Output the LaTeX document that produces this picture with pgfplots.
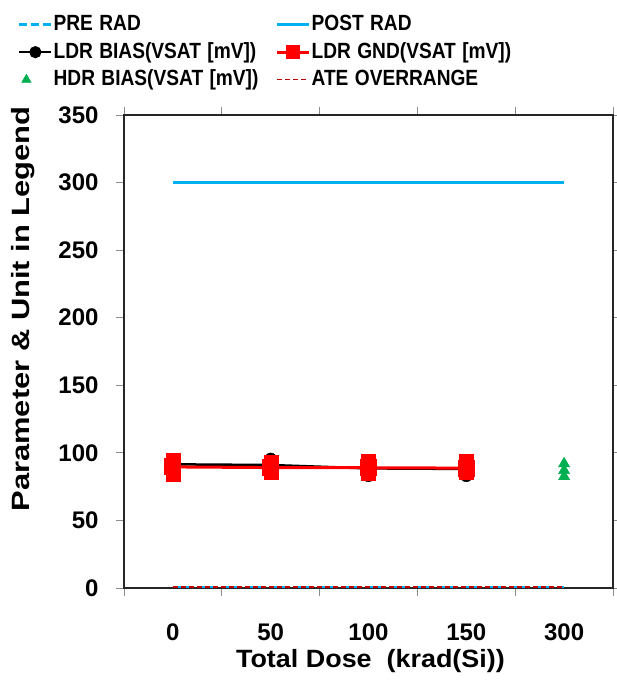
\documentclass[border=0pt]{standalone}
\usepackage{fontspec}
\setmainfont{Liberation Sans}
\usepackage{graphicx}
\usepackage{pgfplots}
\pgfplotsset{compat=1.18}
\definecolor{ltblue}{RGB}{0,176,240}
\definecolor{mygreen}{RGB}{0,176,80}
\definecolor{dkred}{RGB}{192,0,0}
\newcommand{\legtxt}[1]{\scalebox{0.87}[1]{#1}}
\pgfplotsset{
  legline/.style={legend image code/.code={\draw[mark repeat=2,mark phase=2,##1] plot coordinates {(0pt,0pt)(16pt,0pt)(32pt,0pt)};}},
  legcirc/.style={legend image code/.code={\draw[mark repeat=2,mark phase=2,##1,mark size=4.8pt] plot coordinates {(0pt,0pt)(16pt,0pt)(32pt,0pt)};}},
  legsq/.style={legend image code/.code={\draw[mark repeat=2,mark phase=2,##1,mark size=5.5pt] plot coordinates {(0pt,0pt)(16pt,0pt)(32pt,0pt)};}},
  legtri/.style={legend image code/.code={\path[draw=none] (0pt,0pt) (32pt,0pt); \draw[##1,only marks,mark size=5.5pt] plot coordinates {(7pt,0pt)};}},
}
\begin{document}
\begin{tikzpicture}[x=1pt,y=1pt]
\useasboundingbox (0,0) rectangle (616,695);
\begin{axis}[
  at={(124pt,107pt)}, anchor=south west,
  scale only axis, width=489pt, height=473pt,
  xmin=-0.5, xmax=4.5, ymin=0, ymax=350,
  xtick={-0.5,0.5,...,4.5}, xticklabels={},
  extra x ticks={0,1,2,3,4}, extra x tick labels={0,50,100,150,300},
  extra x tick style={major tick length=0pt},
  ytick={0,50,...,350},
  tick align=outside, major tick length=8pt,
  axis line style={line width=1.2pt, black!85},
  tick style={line width=0.8pt, black!45},
  /pgf/number format/assume math mode=true,
  ticklabel style={font=\fontsize{24}{24}\selectfont\bfseries},
  yticklabel style={anchor=east, xshift=-14pt},
  xticklabel style={anchor=base, yshift=-52pt},
  xlabel={\scalebox{1.077}[1]{Total Dose\ \ (krad(Si))}},
  ylabel={\scalebox{1.236}[1]{Parameter \& Unit in Legend}},
  every axis x label/.style={at={(axis description cs:0.504,-0.154)}, anchor=center, font=\fontsize{25}{25}\selectfont\bfseries},
  every axis y label/.style={at={(axis description cs:-0.2065,0.590)}, anchor=center, rotate=90, font=\fontsize{25}{25}\selectfont\bfseries},
  legend columns=2,
  legend style={at={(axis description cs:-0.223,1.221)}, anchor=north west, draw=none, fill=none,
    font=\fontsize{22}{22}\selectfont\bfseries,
    nodes={text width=221pt, align=left, text height=17pt, text depth=5pt, inner sep=1pt},
    row sep=3.5pt},
  legline,
]
% PRE RAD
\addplot[ltblue, line width=2.5pt, dash pattern=on 8pt off 4pt] coordinates {(0,0.8)(1,0.8)(2,0.8)(3,0.8)(4,0.8)};
\addlegendentry{\legtxt{PRE RAD}}
% POST RAD
\addplot[ltblue, line width=2.5pt] coordinates {(0,300)(1,300)(2,300)(3,300)(4,300)};
\addlegendentry{\legtxt{POST RAD}}
% LDR BIAS
\addplot[black, line width=2.5pt, mark=*, mark size=6pt, mark options={solid}, legcirc]
  coordinates {(0,91.5)(1,91)(2,88.5)(3,88.1)};
\addlegendentry{\legtxt{LDR BIAS(VSAT [mV])}}
\addplot[black, only marks, mark=*, mark size=6pt, forget plot]
  coordinates {(0,94)(0,93)(0,91.5)(0,90)(0,89)
               (1,95.5)(1,92)(1,90.5)(1,89.5)(1,87.5)
               (2,92)(2,90)(2,89)(2,88.5)(2,83)
               (3,92)(3,89.5)(3,88.5)(3,87.5)(3,83)};
% LDR GND
\addplot[red, line width=3pt, mark=square*, mark size=7pt, mark options={solid}, legsq]
  coordinates {(0,89.6)(1,89.1)(2,89)(3,88.7)};
\addlegendentry{\legtxt{LDR GND(VSAT [mV])}}
\addplot[red, only marks, mark=square*, mark size=7pt, forget plot]
  coordinates {(0,94.5)(0,92)(0,90)(0,87)(0,84.5)
               (1,93)(1,90.5)(1,88.5)(1,87.5)(1,86)
               (2,94)(2,91)(2,89)(2,86)(2,85)
               (3,93.5)(3,90)(3,88)(3,86.5)(3,85.5)};
% HDR BIAS
\addplot[mygreen, only marks, mark=triangle*, mark size=6.5pt, legtri]
  coordinates {(4,92)(4,87)(4,82.5)};
\addlegendentry{\legtxt{HDR BIAS(VSAT [mV])}}
% ATE OVERRANGE
\addplot[dkred, line width=1.5pt, dash pattern=on 5pt off 3pt] coordinates {(0,0.8)(1,0.8)(2,0.8)(3,0.8)(4,0.8)};
\addlegendentry{\legtxt{ATE OVERRANGE}}
\end{axis}
\end{tikzpicture}
\end{document}
